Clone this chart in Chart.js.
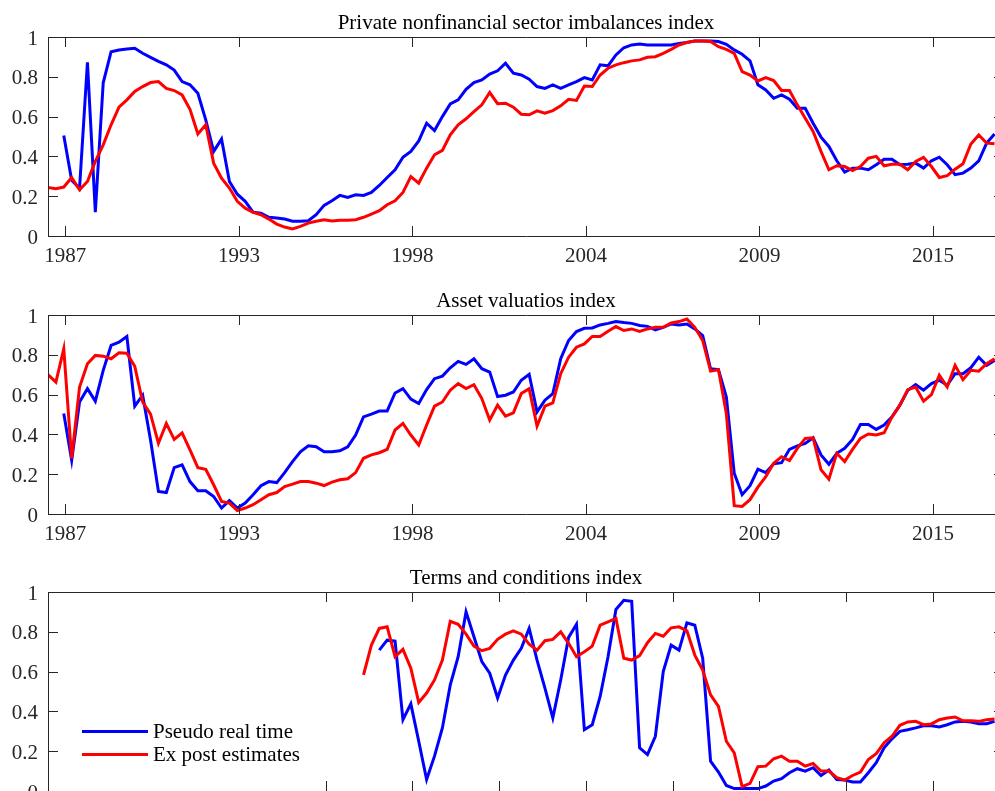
<!DOCTYPE html>
<html lang="en">
<head>
    <meta charset="UTF-8" />
    <title>Imbalances indices</title>
    <script src="https://cdn.jsdelivr.net/npm/chart.js"></script>
    <style>
        html, body { margin: 0; padding: 0; background: #fff; overflow: hidden; }
        body { width: 995px; height: 791px; position: relative; }
        canvas { position: absolute; left: 0; }
        #legend {
            position: absolute; left: 82px; top: 720px;
            font-family: 'Liberation Serif', 'Times New Roman', serif;
            font-size: 21px; color: #000;
        }
        #legend .item { display: flex; align-items: center; height: 23px; }
        #legend .swatch { display: inline-block; width: 66px; height: 3px; margin-right: 5px; }
    </style>
</head>
<body>
    <canvas id="pnfChart" width="1010" height="270" style="top:0px"></canvas>
    <canvas id="assetChart" width="1010" height="270" style="top:278px"></canvas>
    <canvas id="termsChart" width="1010" height="270" style="top:555px"></canvas>
    <div id="legend">
        <div class="item"><span class="swatch" style="background:#0000ff"></span>Pseudo real time</div>
        <div class="item"><span class="swatch" style="background:#ff0000"></span>Ex post estimates</div>
    </div>

    <script>
        // quarterly index, 0 = first ex post quarter
        const xMax = 121.2;
        const yearTicks = [2.2, 24.2, 46.2, 68.2, 90.2, 112.2];
        const yearLabels = ['1987', '1993', '1998', '2004', '2009', '2015'];
        const termsTicks = [35.2, 46.2, 57.2, 68.2, 79.2, 90.2, 101.2, 112.2];

        // Private nonfinancial sector imbalances index
        const pnfExPostStart = 0;
        const pnfExPost = [
            0.244, 0.237, 0.246, 0.294, 0.232, 0.274, 0.375, 0.458, 0.559, 0.647, 0.684, 0.726,
            0.751, 0.771, 0.776, 0.742, 0.731, 0.709, 0.637, 0.513, 0.559, 0.366,
            0.291, 0.241, 0.174, 0.14, 0.119, 0.107, 0.085, 0.06, 0.045, 0.035,
            0.048, 0.065, 0.074, 0.082, 0.075, 0.079, 0.079, 0.082, 0.094, 0.11,
            0.127, 0.157, 0.177, 0.219, 0.299, 0.266, 0.341, 0.408, 0.43, 0.508,
            0.559, 0.589, 0.625, 0.659, 0.721, 0.665, 0.667, 0.647, 0.612, 0.609,
            0.629, 0.617, 0.63, 0.654, 0.687, 0.681, 0.754, 0.751, 0.809, 0.843,
            0.86, 0.871, 0.88, 0.885, 0.898, 0.901, 0.918, 0.938, 0.96, 0.972,
            0.98, 0.98, 0.977, 0.951, 0.938, 0.918, 0.826, 0.809, 0.779, 0.796,
            0.781, 0.731, 0.731, 0.659, 0.592, 0.525, 0.425, 0.333, 0.353, 0.349,
            0.329, 0.349, 0.391, 0.4, 0.353, 0.361, 0.361, 0.333, 0.375, 0.395,
            0.349, 0.294, 0.303, 0.336, 0.363, 0.462, 0.508, 0.467, 0.463
        ];
        const pnfRealTimeStart = 2;
        const pnfRealTime = [
            0.505, 0.28, 0.24, 0.873, 0.12, 0.77, 0.926, 0.935, 0.94, 0.943,
            0.918, 0.898, 0.878, 0.86, 0.834, 0.776, 0.76, 0.717, 0.584, 0.425,
            0.487, 0.274, 0.21, 0.174, 0.12, 0.115, 0.094, 0.09, 0.085, 0.074,
            0.074, 0.077, 0.107, 0.154, 0.177, 0.204, 0.194, 0.207, 0.204, 0.219,
            0.254, 0.294, 0.333, 0.396, 0.425, 0.478, 0.567, 0.53, 0.6, 0.664,
            0.684, 0.737, 0.771, 0.784, 0.814, 0.83, 0.868, 0.818, 0.809, 0.788,
            0.751, 0.742, 0.759, 0.742, 0.759, 0.776, 0.796, 0.784, 0.86, 0.855,
            0.91, 0.946, 0.96, 0.965, 0.96, 0.96, 0.96, 0.96, 0.968, 0.973,
            0.98, 0.98, 0.98, 0.977, 0.963, 0.935, 0.913, 0.88, 0.76, 0.734,
            0.692, 0.709, 0.687, 0.642, 0.642, 0.567, 0.497, 0.45, 0.378, 0.321,
            0.341, 0.341, 0.333, 0.358, 0.386, 0.386, 0.358, 0.361, 0.366, 0.341,
            0.378, 0.396, 0.358, 0.308, 0.316, 0.341, 0.378, 0.467, 0.513
        ];

        // Asset valuations index
        const assetExPostStart = 0;
        const assetExPost = [
            0.70, 0.663, 0.83, 0.28, 0.638, 0.755, 0.797, 0.793, 0.78, 0.81, 0.808, 0.742,
            0.563, 0.502, 0.355, 0.455, 0.375, 0.408, 0.322, 0.233, 0.225, 0.147,
            0.063, 0.055, 0.017, 0.03, 0.047, 0.072, 0.097, 0.108, 0.138, 0.15,
            0.163, 0.163, 0.155, 0.143, 0.16, 0.172, 0.177, 0.208, 0.28, 0.297,
            0.308, 0.325, 0.422, 0.455, 0.397, 0.347, 0.447, 0.542, 0.563, 0.622,
            0.655, 0.63, 0.65, 0.58, 0.472, 0.547, 0.492, 0.508, 0.605, 0.63,
            0.442, 0.542, 0.558, 0.705, 0.788, 0.838, 0.855, 0.892, 0.892, 0.918,
            0.942, 0.922, 0.93, 0.918, 0.93, 0.938, 0.938, 0.96, 0.967, 0.98,
            0.938, 0.872, 0.718, 0.725, 0.505, 0.042, 0.038, 0.072, 0.135, 0.188,
            0.255, 0.288, 0.268, 0.33, 0.38, 0.383, 0.222, 0.175, 0.305, 0.263,
            0.325, 0.38, 0.402, 0.397, 0.408, 0.488, 0.547, 0.625, 0.638, 0.567,
            0.6, 0.697, 0.638, 0.747, 0.675, 0.722, 0.718, 0.755, 0.78
        ];
        const assetRealTimeStart = 2;
        const assetRealTime = [
            0.505, 0.27, 0.563, 0.63, 0.567, 0.722, 0.847, 0.863, 0.892, 0.542,
            0.597, 0.372, 0.113, 0.108, 0.233, 0.247, 0.163, 0.117, 0.117, 0.088,
            0.03, 0.067, 0.03, 0.055, 0.097, 0.142, 0.163, 0.158, 0.208, 0.263,
            0.313, 0.343, 0.338, 0.313, 0.313, 0.318, 0.338, 0.397, 0.488, 0.502,
            0.517, 0.518, 0.608, 0.63, 0.577, 0.555, 0.625, 0.68, 0.693, 0.735,
            0.767, 0.752, 0.78, 0.73, 0.713, 0.59, 0.597, 0.613, 0.672, 0.702,
            0.513, 0.572, 0.605, 0.78, 0.872, 0.917, 0.933, 0.935, 0.95, 0.958,
            0.967, 0.962, 0.958, 0.947, 0.943, 0.925, 0.938, 0.955, 0.95, 0.955,
            0.93, 0.897, 0.73, 0.725, 0.588, 0.205, 0.097, 0.142, 0.225, 0.208,
            0.252, 0.258, 0.325, 0.342, 0.355, 0.383, 0.297, 0.25, 0.305, 0.33,
            0.375, 0.45, 0.45, 0.425, 0.447, 0.488, 0.547, 0.622, 0.65, 0.622,
            0.655, 0.672, 0.647, 0.705, 0.705, 0.735, 0.788, 0.747, 0.772
        ];

        // Terms and conditions index
        const termsExPostStart = 40;
        const termsExPost = [
            0.583, 0.733,
            0.817, 0.825, 0.675, 0.712, 0.617, 0.445, 0.492, 0.558, 0.658, 0.853,
            0.838, 0.788, 0.728, 0.705, 0.717, 0.762, 0.788, 0.805, 0.788, 0.738,
            0.708, 0.755, 0.762, 0.8, 0.742, 0.675, 0.7, 0.728, 0.833, 0.85,
            0.867, 0.667, 0.658, 0.68, 0.745, 0.792, 0.778, 0.82, 0.825, 0.805,
            0.683, 0.608, 0.483, 0.425, 0.25, 0.192, 0.022, 0.038, 0.122, 0.125,
            0.162, 0.175, 0.15, 0.15, 0.125, 0.138, 0.1, 0.1, 0.067, 0.055,
            0.078, 0.095, 0.158, 0.188, 0.242, 0.275, 0.33, 0.347, 0.35, 0.333,
            0.337, 0.358, 0.367, 0.372, 0.353, 0.353, 0.35, 0.358, 0.362
        ];
        const termsRealTimeStart = 42;
        const termsRealTime = [
            0.708, 0.758, 0.753, 0.358, 0.438, 0.25, 0.058, 0.175, 0.317, 0.533,
            0.675, 0.9, 0.775, 0.65, 0.592, 0.467, 0.583, 0.658, 0.717, 0.817,
            0.658, 0.517, 0.367, 0.558, 0.772, 0.838, 0.308, 0.333, 0.475, 0.675,
            0.912, 0.958, 0.953, 0.217, 0.183, 0.275, 0.6, 0.733, 0.708, 0.845,
            0.833, 0.667, 0.15, 0.095, 0.028, 0.012, 0.012, 0.012, 0.012, 0.025,
            0.05, 0.062, 0.092, 0.112, 0.1, 0.117, 0.078, 0.105, 0.058, 0.055,
            0.045, 0.045, 0.092, 0.142, 0.217, 0.262, 0.3, 0.308, 0.317, 0.328,
            0.328, 0.322, 0.333, 0.347, 0.35, 0.347, 0.338, 0.338, 0.35
        ];

        const serif = "'Liberation Serif', 'Times New Roman', serif";
        const axisColor = '#262626';

        // matlab style box with ticks pointing inwards
        const insideTicks = {
            id: 'insideTicks',
            afterDraw(chart) {
                const { ctx, chartArea: a, scales } = chart;
                const len = 10;
                ctx.save();
                ctx.strokeStyle = axisColor;
                ctx.lineWidth = 1;
                ctx.beginPath();
                ctx.rect(Math.round(a.left) + 0.5, Math.round(a.top) + 0.5,
                         Math.round(a.width), Math.round(a.height));
                scales.x.ticks.forEach(t => {
                    const px = Math.round(scales.x.getPixelForValue(t.value)) + 0.5;
                    ctx.moveTo(px, a.top); ctx.lineTo(px, a.top + len);
                    ctx.moveTo(px, a.bottom); ctx.lineTo(px, a.bottom - len);
                });
                scales.y.ticks.forEach(t => {
                    const py = Math.round(scales.y.getPixelForValue(t.value)) + 0.5;
                    ctx.moveTo(a.left, py); ctx.lineTo(a.left + len, py);
                    ctx.moveTo(a.right, py); ctx.lineTo(a.right - len, py);
                });
                ctx.stroke();
                ctx.restore();
            }
        };

        function toPoints(values, start) {
            return values.map((v, i) => ({ x: start + i, y: v }));
        }

        function makePanel(canvasId, title, realTime, rtStart, exPost, epStart, ticks, labels) {
            const ctx = document.getElementById(canvasId).getContext('2d');
            return new Chart(ctx, {
                type: 'line',
                data: {
                    datasets: [
                        {
                            label: 'Pseudo real time',
                            data: toPoints(realTime, rtStart),
                            borderColor: '#0000ff',
                            borderWidth: 3,
                            pointRadius: 0,
                            tension: 0,
                            order: 2
                        },
                        {
                            label: 'Ex post estimates',
                            data: toPoints(exPost, epStart),
                            borderColor: '#ff0000',
                            borderWidth: 3,
                            pointRadius: 0,
                            tension: 0,
                            order: 1
                        }
                    ]
                },
                options: {
                    responsive: false,
                    animation: false,
                    events: [],
                    layout: { padding: { left: 0, right: 6, top: 0, bottom: 0 } },
                    plugins: {
                        legend: { display: false },
                        tooltip: { enabled: false },
                        title: {
                            display: true,
                            text: title,
                            fullSize: false,
                            color: '#000',
                            font: { family: serif, size: 21, weight: 'normal', lineHeight: 1.2 },
                            padding: { top: 11, bottom: 0.8 }
                        }
                    },
                    scales: {
                        x: {
                            type: 'linear',
                            min: 0,
                            max: xMax,
                            grid: { display: false, drawTicks: false },
                            border: { display: false },
                            afterBuildTicks: (scale) => {
                                scale.ticks = ticks.map(v => ({ value: v }));
                            },
                            afterFit: (scale) => { scale.height = 34; },
                            ticks: {
                                autoSkip: false,
                                maxRotation: 0,
                                padding: 8,
                                color: axisColor,
                                font: { family: serif, size: 21 },
                                callback: (value, index) => labels[index] || ''
                            }
                        },
                        y: {
                            min: 0,
                            max: 1,
                            grid: { display: false, drawTicks: false },
                            border: { display: false },
                            afterFit: (scale) => { scale.width = 48; },
                            ticks: {
                                stepSize: 0.2,
                                padding: 10,
                                labelOffset: 2,
                                color: axisColor,
                                font: { family: serif, size: 21 },
                                callback: (value) => String(Number(value.toFixed(1)))
                            }
                        }
                    }
                },
                plugins: [insideTicks]
            });
        }

        makePanel('pnfChart', 'Private nonfinancial sector imbalances index',
            pnfRealTime, pnfRealTimeStart, pnfExPost, pnfExPostStart, yearTicks, yearLabels);
        makePanel('assetChart', 'Asset valuatios index',
            assetRealTime, assetRealTimeStart, assetExPost, assetExPostStart, yearTicks, yearLabels);
        makePanel('termsChart', 'Terms and conditions index',
            termsRealTime, termsRealTimeStart, termsExPost, termsExPostStart, termsTicks, []);
    </script>
</body>
</html>
